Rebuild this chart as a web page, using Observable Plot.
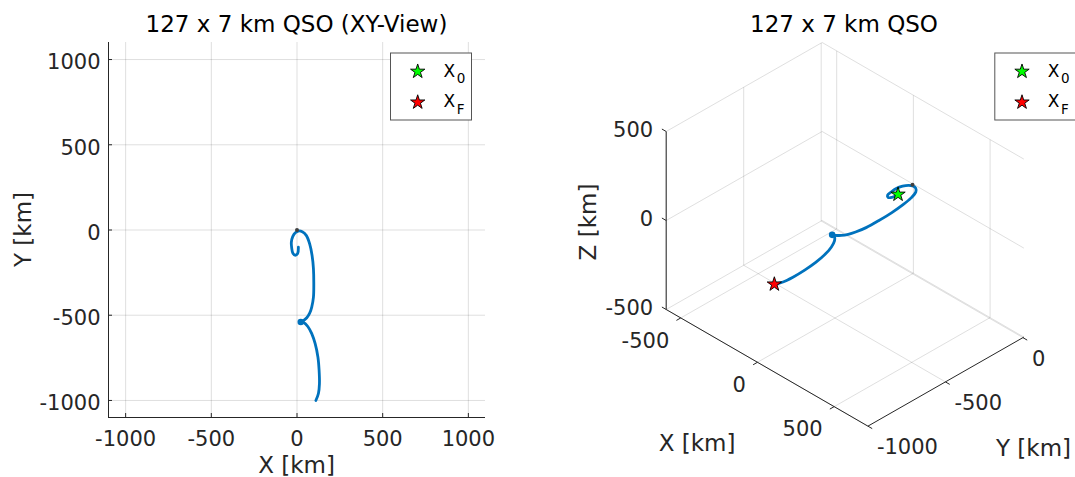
<!DOCTYPE html>
<html><head><meta charset="utf-8">
<script src="https://cdn.jsdelivr.net/npm/d3@7"></script>
<script src="https://cdn.jsdelivr.net/npm/@observablehq/plot@0.6"></script>
<style>
html,body{margin:0;padding:0;background:#fff;}
#fig{position:relative;width:1075px;height:477px;overflow:hidden;background:#fff;}
#fig svg{position:absolute;top:0;}
</style></head><body><div id="fig"></div>
<script>
// ---------- data ----------
// arc 1: from X0 (inside the small loop) to the manoeuvre point
const arc1X = [8, 4, -10, -24, -31, -33, -25, -10, 8, 31, 55, 74, 88, 96, 98, 96, 86, 74, 57, 35, 22];
const arc1Y = [-101, -137, -148, -137, -105, -72, -39, -16, -6, -10, -33, -82, -150, -228, -316, -394, -452, -488, -515, -534, -540];
const arc1Z = [0, -1, -2, -3, -3, -2, -1, 0, 1, 2, 3, 4, 5, 5, 4, 3, 2, 1, 0, -1, -2];
// arc 2: from the manoeuvre point to XF
const arc2X = [22, 39, 63, 86, 106, 122, 129, 131, 125, 110];
const arc2Y = [-540, -542, -566, -608, -667, -745, -823, -901, -959, -1000];
const arc2Z = [-2, -3, -4, -4, -5, -5, -6, -6, -7, -7];
// central body (origin)
const bodyPos = [0, 0, 0];
// legend entries
const legendNames = ["0", "F"];
const legendColors = ["#00ff00", "#ff0000"];

// axes
const ticks2 = [-1000, -500, 0, 500, 1000];
const lim2 = [-1100, 1100];
const xTicks3 = [-500, 0, 500], yTicks3 = [-1000, -500, 0], zTicks3 = [-500, 0, 500];
const xLim3 = [-595, 720], yLim3 = [-1000, 6], zLim3 = [-500, 500];

const titles = ["127 x 7 km QSO (XY-View)", "127 x 7 km QSO"];

// ---------- build ----------
const rows = (X, Y, Z) => X.map((x, i) => ({x, y: Y[i], z: Z[i]}));
const arc1 = rows(arc1X, arc1Y, arc1Z);
const arc2 = rows(arc2X, arc2Y, arc2Z);
const x0 = arc1[0], xF = arc2[arc2.length - 1], burn = arc2[0];
const body = {x: bodyPos[0], y: bodyPos[1], z: bodyPos[2]};
const fmt = d => String(d);
const FONT = '"DejaVu Sans", sans-serif';
const BLUE = "#0072BD", INK = "#262626";
const TF = 21, LF = 23;

const fig = document.getElementById("fig");

// ---- 2D XY view ----
const tickKm = 4 / (377 / 2200);
const p2 = Plot.plot({
  width: 540, height: 477,
  marginLeft: 108, marginRight: 55, marginTop: 42, marginBottom: 60,
  style: {fontFamily: FONT, fontSize: TF + "px", color: INK, background: "transparent"},
  x: {domain: lim2}, y: {domain: lim2},
  marks: [
    Plot.gridX(ticks2, {stroke: INK, strokeOpacity: 0.15, strokeWidth: 1}),
    Plot.gridY(ticks2, {stroke: INK, strokeOpacity: 0.15, strokeWidth: 1}),
    Plot.ruleX([lim2[0]], {stroke: INK, strokeWidth: 1}),
    Plot.ruleY([lim2[0]], {stroke: INK, strokeWidth: 1}),
    Plot.ruleX(ticks2, {x: d => d, y1: lim2[0], y2: lim2[0] + tickKm, stroke: INK}),
    Plot.ruleY(ticks2, {y: d => d, x1: lim2[0], x2: lim2[0] + tickKm, stroke: INK}),
    Plot.axisX(ticks2, {tickSize: 0, tickPadding: 13.5, label: null, tickFormat: fmt, fill: INK}),
    Plot.axisY(ticks2, {tickSize: 0, tickPadding: 8, dy: 3, label: null, tickFormat: fmt, fill: INK}),
    Plot.line(arc1, {x: "x", y: "y", stroke: BLUE, strokeWidth: 2.8, curve: "catmull-rom"}),
    Plot.line(arc2, {x: "x", y: "y", stroke: BLUE, strokeWidth: 2.8, curve: "catmull-rom"}),
    Plot.dot([burn], {x: "x", y: "y", r: 3.3, fill: BLUE}),
    Plot.dot([body], {x: "x", y: "y", r: 2, fill: "#404040"})
  ]
});
p2.style.left = "0px";
fig.appendChild(p2);

// ---- 3D view (orthographic projection of the data) ----
const view = {ox: 665.7, oy: 220, hx: [0.1534, 0.0887], hy: [0.155, -0.0885], hz: [0, -0.178]};
const proj = (x, y, z) => {
  const a = x - xLim3[0], b = y - yLim3[0];
  return [view.ox + view.hx[0] * a + view.hy[0] * b + view.hz[0] * z,
          view.oy + view.hx[1] * a + view.hy[1] * b + view.hz[1] * z];
};
const P = r => proj(r.x, r.y, r.z);
const [x1, x2] = xLim3, [y1, y2] = yLim3, [z1, z2] = zLim3;
const grid = [];
for (const xt of xTicks3) { grid.push([[xt, y1, z1], [xt, y2, z1]]); grid.push([[xt, y2, z1], [xt, y2, z2]]); }
for (const yt of yTicks3) { grid.push([[x1, yt, z1], [x2, yt, z1]]); grid.push([[x1, yt, z1], [x1, yt, z2]]); }
for (const zt of zTicks3) { grid.push([[x1, y1, zt], [x1, y2, zt]]); grid.push([[x1, y2, zt], [x2, y2, zt]]); }
const axes3 = [[[x1, y1, z1], [x2, y1, z1]], [[x2, y1, z1], [x2, y2, z1]], [[x1, y1, z1], [x1, y1, z2]]];
const tk = 28;
const ticks3 = [
  ...xTicks3.map(t => [[t, y1, z1], [t, y1 - tk, z1]]),
  ...yTicks3.map(t => [[x2, t, z1], [x2 + tk, t, z1]]),
  ...zTicks3.map(t => [[x1, y1, t], [x1 - tk, y1, t]])
];
const seg = (data, opts) => Plot.link(data, {
  x1: s => proj(...s[0])[0], y1: s => proj(...s[0])[1],
  x2: s => proj(...s[1])[0], y2: s => proj(...s[1])[1], ...opts
});
const px = r => P(r)[0], py = r => P(r)[1];
const p3 = Plot.plot({
  width: 535, height: 477, margin: 0,
  style: {fontFamily: FONT, fontSize: TF + "px", color: INK, background: "transparent"},
  x: {domain: [540, 1075], range: [0, 535], axis: null},
  y: {domain: [0, 477], range: [0, 477], axis: null},
  marks: [
    seg(grid, {stroke: INK, strokeOpacity: 0.15, strokeWidth: 1}),
    seg(axes3, {stroke: INK, strokeWidth: 1}),
    seg(ticks3, {stroke: INK, strokeWidth: 1}),
    Plot.text(xTicks3, {x: t => proj(t, y1, z1)[0], y: t => proj(t, y1, z1)[1], text: fmt,
      dx: -11.5, dy: 23, textAnchor: "end", fontSize: TF, fill: INK}),
    Plot.text(yTicks3, {x: t => proj(x2, t, z1)[0], y: t => proj(x2, t, z1)[1], text: fmt,
      dx: 9, dy: 21.5, textAnchor: "start", fontSize: TF, fill: INK}),
    Plot.text(zTicks3, {x: t => proj(x1, y1, t)[0], y: t => proj(x1, y1, t)[1], text: fmt,
      dx: -13, dy: -1.5, textAnchor: "end", fontSize: TF, fill: INK}),
    Plot.line(arc1, {x: px, y: py, stroke: BLUE, strokeWidth: 2.8, curve: "catmull-rom"}),
    Plot.line(arc2, {x: px, y: py, stroke: BLUE, strokeWidth: 2.8, curve: "catmull-rom"}),
    Plot.dot([burn], {x: px, y: py, r: 3.3, fill: BLUE}),
    Plot.dot([body], {x: px, y: py, r: 2, fill: "#404040"}),
    Plot.dot([x0], {x: px, y: py, symbol: "star", r: 4.5, fill: legendColors[0], stroke: "#000", strokeWidth: 0.9}),
    Plot.dot([xF], {x: px, y: py, symbol: "star", r: 4.5, fill: legendColors[1], stroke: "#000", strokeWidth: 0.9})
  ]
});
p3.style.left = "540px";
fig.appendChild(p3);

// ---- overlay: titles, axis labels, legends ----
const ov = d3.create("svg").attr("width", 1075).attr("height", 477)
  .style("left", "0px").attr("font-family", FONT);
const txt = (x, y, s, size, fill, rot) => {
  const t = ov.append("text").attr("text-anchor", "middle").attr("font-size", size).attr("fill", fill).text(s);
  if (rot) t.attr("transform", `translate(${x},${y}) rotate(-90)`); else t.attr("x", x).attr("y", y);
};
txt(296.5, 31.5, titles[0], LF, "#000");
txt(844, 31.5, titles[1], LF, "#000");
txt(296.5, 472.5, "X [km]", LF, INK);
txt(31, 229.5, "Y [km]", LF, INK, true);
txt(697, 450.5, "X [km]", LF, INK);
txt(1033.5, 455.5, "Y [km]", LF, INK);
txt(595.5, 222, "Z [km]", LF, INK, true);

const starPath = d3.symbol(d3.symbolStar, Math.PI * 4.5 * 4.5)();
for (const lx of [390, 994.3]) {
  const g = ov.append("g");
  g.append("rect").attr("x", lx + 0.5).attr("y", 53).attr("width", 81).attr("height", 67)
    .attr("fill", "#fff").attr("stroke", "#555").attr("stroke-width", 1);
  legendNames.forEach((n, i) => {
    const cy = 71.5 + i * 30.8;
    g.append("path").attr("d", starPath).attr("transform", `translate(${lx + 27.7},${cy})`)
      .attr("fill", legendColors[i]).attr("stroke", "#000").attr("stroke-width", 0.9);
    const t = g.append("text").attr("x", lx + 53.5).attr("y", cy + 5).attr("font-size", 17).attr("fill", "#000").text("X");
    t.append("tspan").attr("dx", 1.5).attr("dy", 6.7).attr("font-size", 13.5).text(n);
  });
}
fig.appendChild(ov.node());
</script></body></html>
